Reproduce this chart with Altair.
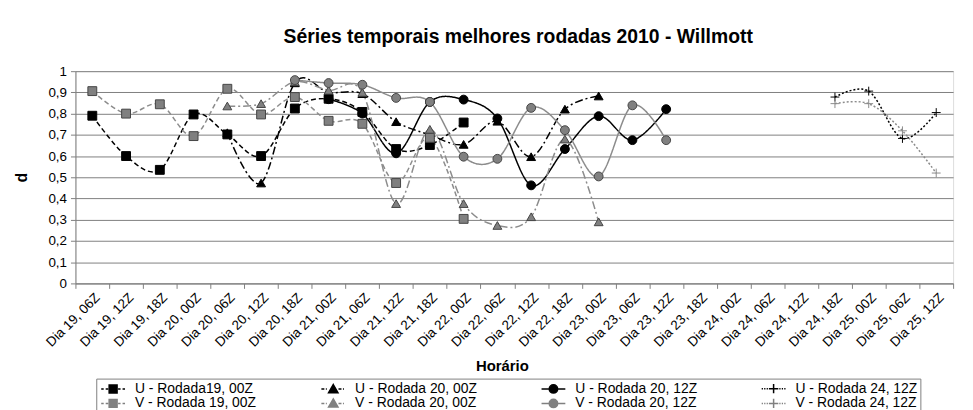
import altair as alt
import pandas as pd

categories = ["Dia 19, 06Z", "Dia 19, 12Z", "Dia 19, 18Z", "Dia 20, 00Z", "Dia 20, 06Z",
              "Dia 20, 12Z", "Dia 20, 18Z", "Dia 21, 00Z", "Dia 21, 06Z", "Dia 21, 12Z",
              "Dia 21, 18Z", "Dia 22, 00Z", "Dia 22, 06Z", "Dia 22, 12Z", "Dia 22, 18Z",
              "Dia 23, 00Z", "Dia 23, 06Z", "Dia 23, 12Z", "Dia 23, 18Z", "Dia 24, 00Z",
              "Dia 24, 06Z", "Dia 24, 12Z", "Dia 24, 18Z", "Dia 25, 00Z", "Dia 25, 06Z",
              "Dia 25, 12Z"]

series_names = ["U - Rodada19, 00Z", "U - Rodada 20, 00Z", "U - Rodada 20, 12Z", "U - Rodada 24, 12Z",
                "V - Rodada 19, 00Z", "V - Rodada 20, 00Z", "V - Rodada 20, 12Z", "V - Rodada 24, 12Z"]

N = None
u_r19_00 = [0.79, 0.60, 0.535, 0.796, 0.702, 0.60, 0.824, 0.87, 0.808, 0.633, 0.652, 0.758,
            N, N, N, N, N, N, N, N, N, N, N, N, N, N]
v_r19_00 = [0.906, 0.80, 0.844, 0.694, 0.917, 0.796, 0.878, 0.766, 0.752, 0.473, 0.686, 0.304,
            N, N, N, N, N, N, N, N, N, N, N, N, N, N]
u_r20_00 = [N, N, N, N, 0.71, 0.473, 0.945, 0.90, 0.894, 0.762, 0.70, 0.655,
            0.764, 0.597, 0.821, 0.883, N, N, N, N, N, N, N, N, N, N]
v_r20_00 = [N, N, N, N, 0.836, 0.847, 0.95, 0.91, 0.90, 0.376, 0.726, 0.376,
            0.273, 0.314, 0.68, 0.29, N, N, N, N, N, N, N, N, N, N]
u_r20_12 = [N, N, N, N, N, N, N, 0.868, 0.80, 0.613, 0.855, 0.866,
            0.777, 0.462, 0.633, 0.788, 0.675, 0.821, N, N, N, N, N, N, N, N]
v_r20_12 = [N, N, N, N, N, N, 0.958, 0.944, 0.936, 0.874, 0.855, 0.597,
            0.587, 0.827, 0.722, 0.504, 0.839, 0.675, N, N, N, N, N, N, N, N]
u_r24_12 = [N, N, N, N, N, N, N, N, N, N, N, N, N, N, N, N, N, N, N, N, N, N,
            0.878, 0.906, 0.683, 0.805]
v_r24_12 = [N, N, N, N, N, N, N, N, N, N, N, N, N, N, N, N, N, N, N, N, N, N,
            0.847, 0.847, 0.719, 0.52]

series_values = [u_r19_00, u_r20_00, u_r20_12, u_r24_12, v_r19_00, v_r20_00, v_r20_12, v_r24_12]

rows = []
for name, vals in zip(series_names, series_values):
    for cat, v in zip(categories, vals):
        if v is not None:
            rows.append({"Horário": cat, "d": v, "serie": name})
df = pd.DataFrame(rows)

FONT = "Liberation Sans"
BLACK = "#000000"
GRAY_LINE = "#8c8c8c"
GRAY_FILL = "#808080"
GRAY_EDGE = "#454545"

# styles per series (same order as series_names)
line_colors = [BLACK] * 4 + [GRAY_LINE] * 4
line_dashes = [[5, 3], [8, 3, 2, 3], [1, 0], [2, 2]] * 2
PLUS = "M-1,0H1M0,-1V1"
marker_shapes = ["square", "triangle-up", "circle", PLUS] * 2
marker_fills = [BLACK] * 4 + [GRAY_FILL] * 3 + [GRAY_LINE]
marker_strokes = [BLACK] * 4 + [GRAY_EDGE] * 3 + [GRAY_LINE]
marker_widths = [1, 1, 1, 2] * 2

# legend symbols: line pattern + marker in one path (unit = 5 px with symbolSize 100)
SQ = "M-0.8,-0.8H0.8V0.8H-0.8Z"
TR = "M0,-0.9L0.95,0.75H-0.95Z"
CI = "M-0.85,0A0.85,0.85,0,1,1,0.85,0A0.85,0.85,0,1,1,-0.85,0Z"
PL = "M-0.95,0H0.95M0,-0.95V0.95"
dash_l = "M-2.4,0H-1.9M-1.5,0H-1.0"
dash_r = "M1.0,0H1.5M1.9,0H2.4"
dd_l = "M-2.4,0H-1.8M-1.5,0H-1.3"
dd_r = "M1.05,0H1.65M1.95,0H2.15"
solid_l = "M-2.4,0H-0.85"
solid_r = "M0.85,0H2.4"
dot_l = "M-2.4,0H-2.15M-1.9,0H-1.65M-1.4,0H-1.15"
dot_r = "M1.15,0H1.4M1.65,0H1.9M2.15,0H2.4"
legend_paths = [dash_l + dash_r + SQ, dd_l + dd_r + TR, solid_l + solid_r + CI, dot_l + dot_r + PL] * 2
legend_strokes = [BLACK] * 4 + [GRAY_FILL] * 4

x_enc = alt.X("Horário:N", sort=categories,
              scale=alt.Scale(type="band", domain=categories, paddingInner=0, paddingOuter=0),
              axis=alt.Axis(title="Horário", labelAngle=-45, labelFontSize=13.5, labelFont=FONT,
                            labelColor=BLACK, tickBand="extent", tickSize=5, tickColor=GRAY_FILL,
                            domainColor=GRAY_FILL, grid=False, labelPadding=2,
                            titleFont=FONT, titleFontSize=15, titleFontWeight="bold",
                            titleColor=BLACK, titleX=430, titleY=88, titleBaseline="alphabetic"))
y_enc = alt.Y("d:Q", scale=alt.Scale(domain=[0, 1], nice=False),
              axis=alt.Axis(title="d", values=[0, 0.1, 0.2, 0.3, 0.4, 0.5, 0.6, 0.7, 0.8, 0.9, 1],
                            labelExpr="datum.value == 0 ? '0' : datum.value == 1 ? '1' : replace(format(datum.value, '.1f'), '.', ',')",
                            labelFontSize=13.5, labelFont=FONT, labelColor=BLACK, labelPadding=4,
                            tickSize=5, tickColor=GRAY_FILL, domainColor=GRAY_FILL,
                            grid=True, gridColor=GRAY_FILL, gridWidth=1,
                            titleFont=FONT, titleFontSize=16, titleFontWeight="bold", titleColor=BLACK,
                            titleAngle=270, titleX=-49, titleY=107, titleBaseline="alphabetic"))

base = alt.Chart(df)

lines = base.mark_line(interpolate="cardinal", strokeWidth=1.5).encode(
    x=x_enc, y=y_enc,
    color=alt.Color("serie:N", scale=alt.Scale(domain=series_names, range=line_colors), legend=None),
    strokeDash=alt.StrokeDash("serie:N", scale=alt.Scale(domain=series_names, range=line_dashes), legend=None),
    detail="serie:N",
)

points = base.mark_point(size=80, opacity=1).encode(
    x=x_enc, y=y_enc,
    shape=alt.Shape("serie:N", scale=alt.Scale(domain=series_names, range=marker_shapes), legend=None),
    fill=alt.Fill("serie:N", scale=alt.Scale(domain=series_names, range=marker_fills), legend=None),
    stroke=alt.Stroke("serie:N", scale=alt.Scale(domain=series_names, range=marker_strokes), legend=None),
    strokeWidth=alt.StrokeWidth("serie:O", scale=alt.Scale(domain=series_names, range=marker_widths), legend=None),
)

leg = alt.Legend(orient="none", legendX=21, legendY=310, columns=4, gridAlign="all",
                 columnPadding=62, rowPadding=-3, labelFontSize=14, labelFont=FONT, labelColor=BLACK,
                 labelOffset=15, symbolOffset=7, padding=3, strokeColor=GRAY_FILL, fillColor="white",
                 title=None, symbolLimit=0, labelLimit=400, symbolSize=100, symbolStrokeWidth=1.5,
                 direction="horizontal")

legend_layer = base.transform_filter("false").mark_point(size=100, opacity=1, strokeWidth=1.5).encode(
    x=x_enc, y=y_enc,
    shape=alt.Shape("serie:N", scale=alt.Scale(domain=series_names, range=legend_paths), legend=leg),
    fill=alt.Fill("serie:N", scale=alt.Scale(domain=series_names, range=legend_strokes), legend=leg),
    stroke=alt.Stroke("serie:N", scale=alt.Scale(domain=series_names, range=legend_strokes), legend=leg),
)

chart = alt.layer(lines, points, legend_layer).resolve_scale(
    shape="independent", fill="independent", stroke="independent",
    color="independent", strokeDash="independent", strokeWidth="independent"
).properties(
    width=885, height=214,
    padding={"left": 68, "top": 62, "right": 12, "bottom": 130},
    autosize=alt.AutoSizeParams(type="none"),
    title=alt.TitleParams("Séries temporais melhores rodadas 2010 - Willmott", font=FONT, fontSize=19.5,
                          fontWeight="bold", color=BLACK, anchor="middle", frame="group",
                          offset=2, baseline="alphabetic", dx=4),
).configure_view(stroke=GRAY_FILL, strokeWidth=1).configure(background="white")

chart.save("out.html", embed_options={"renderer": "svg", "actions": False})
